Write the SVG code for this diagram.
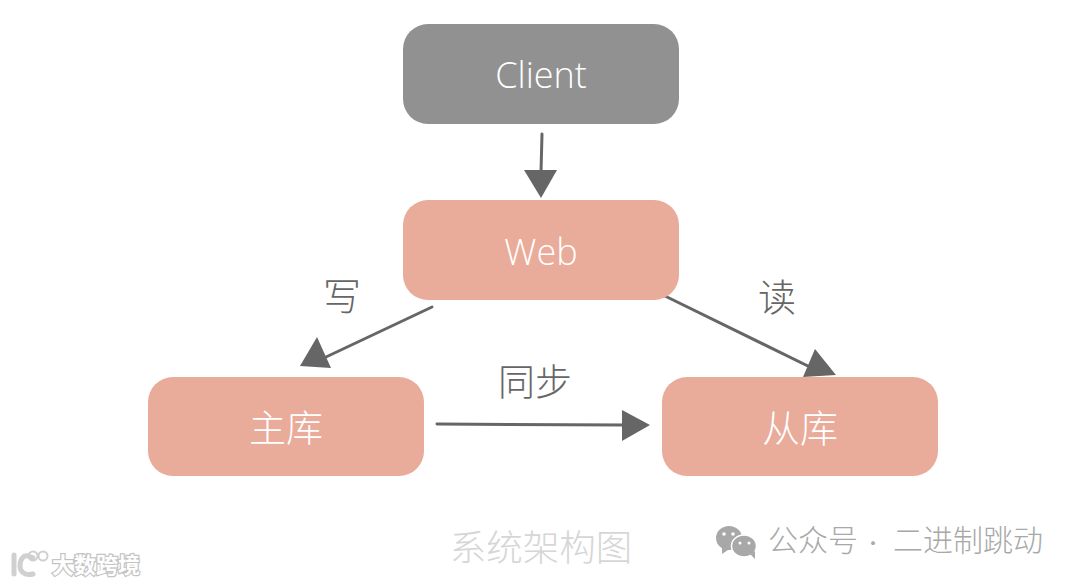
<svg xmlns="http://www.w3.org/2000/svg" width="1080" height="584" viewBox="0 0 1080 584">
<style>
.box{fill:#e9ab9a}
.lbl{fill:#fff;text-anchor:middle;font-family:"Noto Sans CJK SC","Noto Sans",sans-serif;font-weight:300}
.hand{fill:#666;text-anchor:middle;font-family:"Noto Sans CJK SC",sans-serif;font-weight:300}
.ln{stroke:#666;stroke-width:3;fill:none;stroke-linecap:round}
.hd{fill:#666}
</style>
<rect width="1080" height="584" fill="#fff"/>
<g id="connectors">
<path class="ln" d="M542 134L541 172"/><polygon class="hd" points="524,170 557,170 541,198"/>
<path class="ln" d="M432 307L326 357"/><polygon class="hd" points="317,337 300,366 331,368"/>
<path class="ln" d="M665 296L812 368"/><polygon class="hd" points="815,349 836,375 803,377"/>
<path class="ln" d="M437 424L624 425"/><polygon class="hd" points="622,410 650,425 622,441"/>
</g>
<g id="client"><rect x="403" y="24" width="276" height="100" rx="25" fill="#919191"/><text class="lbl" x="541" y="88" font-size="36" style="font-family:'Open Sans',sans-serif">Client</text></g>
<g id="web"><rect class="box" x="403" y="200" width="276" height="100" rx="25"/><text class="lbl" x="541" y="265" font-size="36" style="font-family:'Open Sans',sans-serif">Web</text></g>
<g id="master"><rect class="box" x="148" y="377" width="276" height="99" rx="25"/><text class="lbl" x="286" y="442" font-size="37">主库</text></g>
<g id="slave"><rect class="box" x="662" y="377" width="276" height="99" rx="25"/><text class="lbl" x="800" y="442" font-size="38">从库</text></g>
<g id="labels">
<text class="hand" x="342" y="310" font-size="38">写</text>
<text class="hand" x="777" y="311" font-size="38">读</text>
<text class="hand" x="535" y="396" font-size="37">同步</text>
<text x="541" y="561" text-anchor="middle" font-size="36.500" fill="#d6d6d6" font-family="'Noto Sans CJK SC',sans-serif" font-weight="300">系统架构图</text>
</g>
<g id="wechat-mark" fill="#a8a8a8">
<ellipse cx="729" cy="538" rx="13" ry="12"/><polygon points="722,546 722,554 731,548"/>
<ellipse cx="744" cy="546" rx="12.500" ry="11" stroke="#fff" stroke-width="1.500"/><polygon points="750,554 755,559 755,551"/>
<g fill="#fff"><circle cx="724" cy="534" r="1.800"/><circle cx="733" cy="534" r="1.800"/><circle cx="740" cy="543" r="1.500"/><circle cx="749" cy="543" r="1.500"/></g>
<text y="551" font-size="30" font-family="'Noto Sans CJK SC',sans-serif" font-weight="300"><tspan x="768">公众号</tspan><tspan x="863" font-size="20">·</tspan><tspan x="893">二进制跳动</tspan></text>
</g>
<g id="logo-mark">
<g fill="none" stroke="#d0d0d0" stroke-width="5" stroke-linecap="round">
<path d="M14 555V574"/><path d="M33 558C23 552 20 560 20 566C20 572 25 576 33 574"/>
</g>
<g fill="none" stroke="#d0d0d0" stroke-width="2"><circle cx="33" cy="556" r="4.500"/><circle cx="43" cy="556" r="4.500"/></g>
<text x="52" y="573" font-size="22" fill="#fff" stroke="#c4c4c4" stroke-width="2.500" paint-order="stroke" font-family="'Noto Sans CJK SC',sans-serif" font-weight="700">大数跨境</text>
</g>
</svg>
